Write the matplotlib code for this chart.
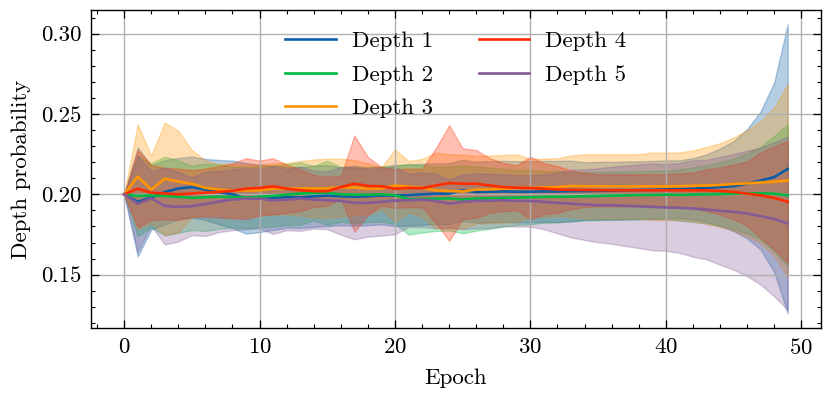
import numpy as np
import matplotlib
matplotlib.use("Agg")
import matplotlib.pyplot as plt
from matplotlib.ticker import MultipleLocator

epochs = list(range(50))
labels = ["Depth 1", "Depth 2", "Depth 3", "Depth 4", "Depth 5"]
colors = ["#0C5DA5", "#00B945", "#FF9500", "#FF2C00", "#845B97"]

d1_mean = [0.2000, 0.1953, 0.1980, 0.2014, 0.2036, 0.2045, 0.2030, 0.2014, 0.2000, 0.1975,
           0.1975, 0.1978, 0.1982, 0.1980, 0.1988, 0.1992, 0.1988, 0.1985, 0.1988, 0.1993,
           0.1993, 0.1995, 0.2000, 0.2004, 0.2004, 0.2025, 0.2014, 0.2016, 0.2018, 0.2016,
           0.2016, 0.2018, 0.2018, 0.2020, 0.2020, 0.2022, 0.2022, 0.2024, 0.2026, 0.2028,
           0.2031, 0.2032, 0.2035, 0.2039, 0.2045, 0.2051, 0.2066, 0.2086, 0.2107, 0.2158]
d1_std = [0.000, 0.034, 0.020, 0.020, 0.019, 0.019, 0.019, 0.020, 0.021, 0.022,
          0.021, 0.020, 0.019, 0.019, 0.019, 0.019, 0.018, 0.018, 0.018, 0.018,
          0.019, 0.019, 0.019, 0.019, 0.019, 0.019, 0.019, 0.019, 0.019, 0.019,
          0.019, 0.019, 0.019, 0.019, 0.018, 0.018, 0.018, 0.018, 0.018, 0.018,
          0.018, 0.018, 0.019, 0.021, 0.024, 0.028, 0.034, 0.043, 0.059, 0.090]

d2_mean = [0.2000, 0.1990, 0.1993, 0.1990, 0.1985, 0.1978, 0.1982, 0.1985, 0.1983, 0.1980,
           0.1985, 0.1990, 0.1998, 0.2005, 0.2008, 0.2010, 0.2000, 0.1998, 0.1998, 0.2000,
           0.1995, 0.1970, 0.1972, 0.1972, 0.1975, 0.1968, 0.1974, 0.1976, 0.1978, 0.1980,
           0.1982, 0.1984, 0.1985, 0.1986, 0.1988, 0.1990, 0.1992, 0.1993, 0.1995, 0.1996,
           0.1998, 0.1996, 0.1998, 0.2000, 0.2002, 0.2004, 0.2006, 0.2006, 0.2004, 0.1994]
d2_std = [0.000, 0.025, 0.020, 0.0245, 0.0225, 0.020, 0.021, 0.020, 0.019, 0.019,
          0.019, 0.019, 0.019, 0.0195, 0.017, 0.020, 0.017, 0.018, 0.017, 0.017,
          0.018, 0.022, 0.021, 0.020, 0.020, 0.021, 0.020, 0.019, 0.018, 0.017,
          0.017, 0.016, 0.016, 0.015, 0.015, 0.015, 0.015, 0.015, 0.015, 0.015,
          0.015, 0.016, 0.017, 0.018, 0.020, 0.022, 0.025, 0.029, 0.036, 0.044]

d3_mean = [0.2000, 0.2110, 0.2030, 0.2097, 0.2080, 0.2066, 0.2040, 0.2030, 0.2022, 0.2024,
           0.2025, 0.2035, 0.2035, 0.2037, 0.2037, 0.2037, 0.2042, 0.2043, 0.2034, 0.2037,
           0.2055, 0.2048, 0.2040, 0.2025, 0.2020, 0.2018, 0.2030, 0.2031, 0.2035, 0.2039,
           0.2040, 0.2042, 0.2045, 0.2052, 0.2050, 0.2050, 0.2050, 0.2050, 0.2050, 0.2050,
           0.2049, 0.2051, 0.2053, 0.2055, 0.2058, 0.2064, 0.2068, 0.2074, 0.2078, 0.2086]
d3_std = [0.000, 0.0326, 0.021, 0.035, 0.0315, 0.021, 0.017, 0.016, 0.017, 0.016,
          0.016, 0.016, 0.016, 0.017, 0.018, 0.0185, 0.018, 0.017, 0.016, 0.013,
          0.0225, 0.016, 0.018, 0.0235, 0.023, 0.023, 0.021, 0.021, 0.021, 0.021,
          0.018, 0.018, 0.018, 0.019, 0.020, 0.020, 0.020, 0.020, 0.020, 0.021,
          0.021, 0.021, 0.022, 0.024, 0.026, 0.029, 0.033, 0.038, 0.046, 0.060]

d4_mean = [0.2000, 0.2035, 0.2010, 0.2005, 0.2000, 0.2005, 0.2010, 0.2015, 0.2022, 0.2035,
           0.2040, 0.2050, 0.2035, 0.2025, 0.2020, 0.2019, 0.2045, 0.2066, 0.2052, 0.2050,
           0.2035, 0.2040, 0.2038, 0.2055, 0.2070, 0.2066, 0.2066, 0.2055, 0.2045, 0.2041,
           0.2039, 0.2035, 0.2030, 0.2028, 0.2027, 0.2026, 0.2025, 0.2025, 0.2025, 0.2025,
           0.2025, 0.2025, 0.2025, 0.2025, 0.2021, 0.2015, 0.2004, 0.1994, 0.1978, 0.1953]
d4_std = [0.000, 0.024, 0.017, 0.016, 0.016, 0.0145, 0.015, 0.016, 0.017, 0.019,
          0.017, 0.0175, 0.015, 0.013, 0.010, 0.009, 0.007, 0.030, 0.018, 0.012,
          0.012, 0.012, 0.012, 0.023, 0.036, 0.022, 0.021, 0.017, 0.015, 0.014,
          0.0195, 0.016, 0.0145, 0.012, 0.0107, 0.010, 0.010, 0.010, 0.010, 0.010,
          0.010, 0.0105, 0.011, 0.013, 0.0145, 0.017, 0.020, 0.0267, 0.032, 0.038]

d5_mean = [0.2000, 0.1942, 0.1975, 0.1928, 0.1922, 0.1926, 0.1940, 0.1955, 0.1967, 0.1973,
           0.1973, 0.1963, 0.1967, 0.1973, 0.1967, 0.1963, 0.1959, 0.1947, 0.1947, 0.1953,
           0.1961, 0.1963, 0.1967, 0.1959, 0.1942, 0.1953, 0.1959, 0.1959, 0.1963, 0.1959,
           0.1959, 0.1953, 0.1947, 0.1942, 0.1936, 0.1932, 0.1932, 0.1928, 0.1926, 0.1922,
           0.1918, 0.1916, 0.1912, 0.1905, 0.1897, 0.1891, 0.1881, 0.1864, 0.1846, 0.1819]
d5_std = [0.000, 0.030, 0.017, 0.024, 0.0216, 0.018, 0.020, 0.019, 0.019, 0.019,
          0.0185, 0.021, 0.019, 0.020, 0.018, 0.018, 0.021, 0.0227, 0.021, 0.021,
          0.021, 0.0165, 0.017, 0.017, 0.015, 0.017, 0.017, 0.017, 0.016, 0.016,
          0.016, 0.017, 0.019, 0.021, 0.022, 0.023, 0.024, 0.025, 0.026, 0.027,
          0.027, 0.028, 0.030, 0.031, 0.0335, 0.036, 0.039, 0.0426, 0.048, 0.054]

means = [d1_mean, d2_mean, d3_mean, d4_mean, d5_mean]
stds = [d1_std, d2_std, d3_std, d4_std, d5_std]

plt.rcParams.update({
    "font.family": "serif",
    "font.serif": ["cmr10"],
    "mathtext.fontset": "cm",
    "axes.formatter.use_mathtext": True,
    "font.size": 16.5,
    "axes.linewidth": 1.0,
    "xtick.direction": "in",
    "ytick.direction": "in",
    "xtick.top": True,
    "ytick.right": True,
    "xtick.major.size": 5.5,
    "ytick.major.size": 5.5,
    "xtick.minor.size": 3,
    "ytick.minor.size": 3,
    "xtick.major.width": 0.9,
    "ytick.major.width": 0.9,
    "xtick.minor.width": 0.8,
    "ytick.minor.width": 0.8,
    "xtick.minor.visible": True,
    "ytick.minor.visible": True,
})

fig = plt.figure(figsize=(8.3, 3.98), dpi=100)
ax = fig.add_axes([0.1096, 0.176, 0.8794, 0.799])

x = np.array(epochs)
for lab, col, m, s in zip(labels, colors, means, stds):
    m = np.array(m)
    s = np.array(s)
    ax.fill_between(x, m - s, m + s, color=col, alpha=0.3, linewidth=1.0)
    ax.plot(x, m, color=col, linewidth=1.9, label=lab)

ax.grid(True, color="#b0b0b0", linewidth=1.0)
ax.xaxis.set_major_locator(MultipleLocator(10))
ax.xaxis.set_minor_locator(MultipleLocator(2))
ax.yaxis.set_major_locator(MultipleLocator(0.05))
ax.yaxis.set_minor_locator(MultipleLocator(0.01))
ax.yaxis.set_major_formatter(matplotlib.ticker.FormatStrFormatter("%.2f"))
ax.tick_params(axis="both", which="major", pad=7)

ax.set_xlabel("Epoch", labelpad=7.5)
ax.set_ylabel("Depth probability", labelpad=7)
ax.legend(loc="upper center", ncol=2, frameon=False, handlelength=2.2,
          handletextpad=0.7, columnspacing=2.0, labelspacing=0.59,
          borderaxespad=0.52)

fig.savefig("out.png", dpi=100)
